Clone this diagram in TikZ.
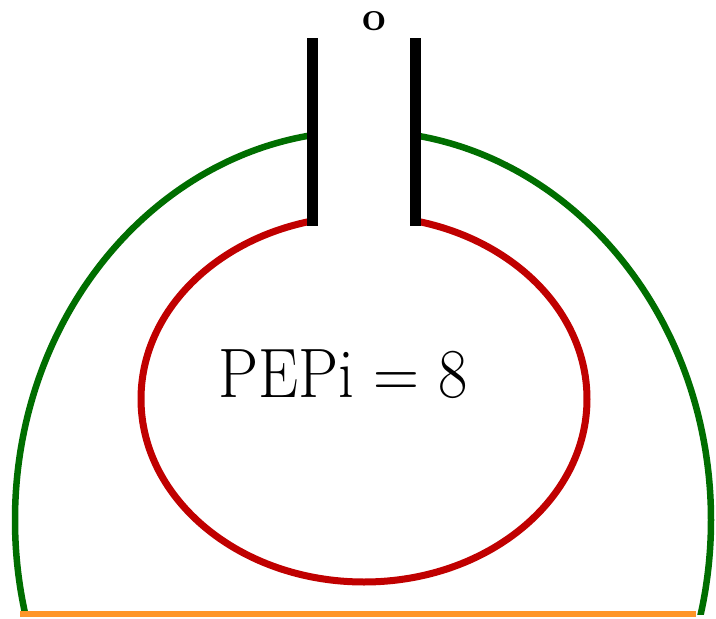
\documentclass[tikz,border=0pt]{standalone}
\begin{document}
\begin{tikzpicture}[x=1pt,y=-1pt,
  greenline/.style={draw=ggreen,line width=6.5pt},
  redline/.style={draw=rred,line width=7pt},
  barline/.style={draw=black,line width=11pt},
  baseline/.style={draw=oorange,line width=6pt}]
\definecolor{ggreen}{RGB}{0,110,0}
\definecolor{rred}{RGB}{192,0,0}
\definecolor{oorange}{RGB}{255,150,40}
\useasboundingbox[fill=white] (0,0) rectangle (716,619);
% green outer arc (clipped above the base line and outside the neck)
\begin{scope}
  \clip (0,0) rectangle (312,614);
  \draw[greenline] (363,520) ellipse [x radius=348, y radius=389];
\end{scope}
\begin{scope}
  \clip (415,0) rectangle (716,614);
  \draw[greenline] (363,520) ellipse [x radius=348, y radius=389];
\end{scope}
% red inner ellipse with gap at the neck
\begin{scope}
  \clip (0,0) -- (312,0) -- (312,300) -- (415,300) -- (415,0) -- (716,0) -- (716,619) -- (0,619) -- cycle;
  \draw[redline] (364,399) ellipse [x radius=223, y radius=183];
\end{scope}
% neck bars
\coordinate (lt) at (312,38);
\coordinate (lb) at (312,226);
\coordinate (rt) at (415,38);
\coordinate (rb) at (415,226);
\draw[barline] (lt) -- (lb);
\draw[barline] (rt) -- (rb);
% base line
\coordinate (bl) at (20,614);
\coordinate (br) at (696,614);
\draw[baseline] (bl) -- (br);
% labels
\node[anchor=base,inner sep=0pt,font=\bfseries\fontsize{42}{44}\selectfont] (o) at (374,30) {o};
\node[anchor=base,inner sep=0pt,font=\fontsize{70}{72}\selectfont,xscale=0.91] (lbl) at (343,397) {PEPi = 8};
\end{tikzpicture}
\end{document}
